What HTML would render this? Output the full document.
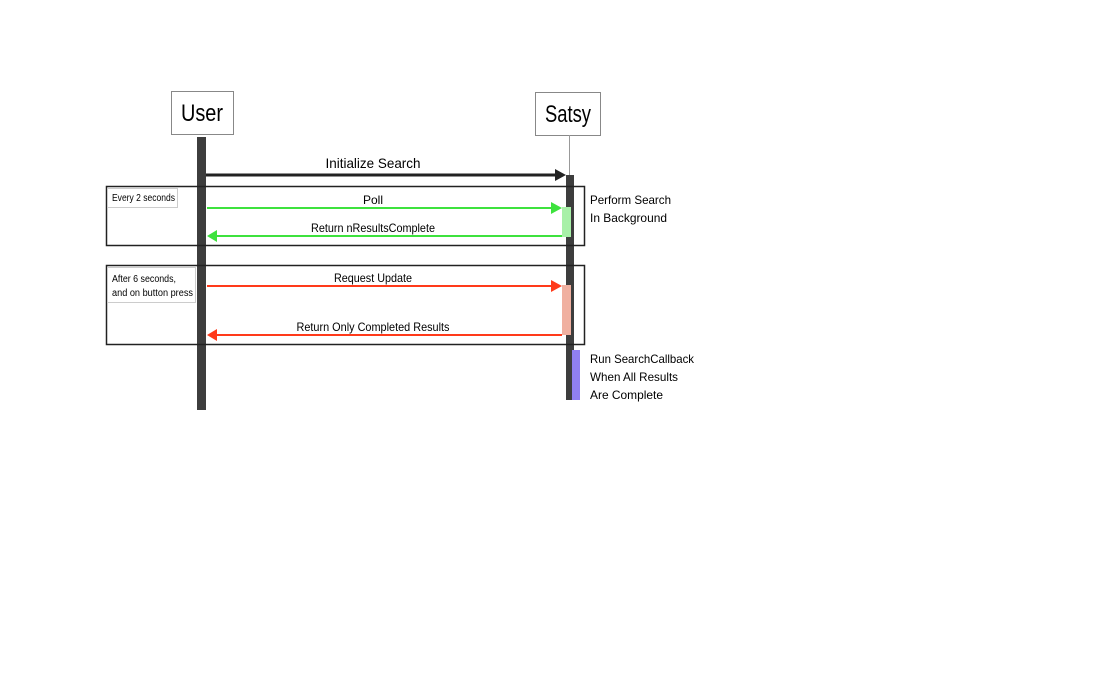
<!DOCTYPE html>
<html><head><style>body{margin:0;background:#fff}svg{display:block}</style></head><body>
<svg width="1100" height="700" xmlns="http://www.w3.org/2000/svg" font-family="Liberation Sans, sans-serif">
<rect x="171.5" y="91.5" width="62" height="43" fill="#fff" stroke="#888"/>
<text x="202" y="121" font-size="24" text-anchor="middle" textLength="42" lengthAdjust="spacingAndGlyphs">User</text>
<rect x="535.5" y="92.5" width="65" height="43" fill="#fff" stroke="#888"/>
<text x="568" y="122" font-size="24" text-anchor="middle" textLength="46" lengthAdjust="spacingAndGlyphs">Satsy</text>
<rect x="197" y="137" width="9" height="273" fill="#3d3d3d"/>
<line x1="569.5" y1="135" x2="569.5" y2="176" stroke="#999"/>
<rect x="566" y="175" width="8" height="225" fill="#3d3d3d"/>
<rect x="106.5" y="186.5" width="478" height="59" fill="none" stroke="#222" stroke-width="1.5"/>
<rect x="107.5" y="188.5" width="70" height="19" fill="#fff" stroke="#ccc"/>
<text x="112" y="201" font-size="10" textLength="63" lengthAdjust="spacingAndGlyphs">Every 2 seconds</text>
<rect x="106.5" y="265.5" width="478" height="79" fill="none" stroke="#222" stroke-width="1.5"/>
<rect x="107.5" y="267.5" width="88" height="35" fill="#fff" stroke="#ccc"/>
<text x="112" y="282" font-size="10" textLength="64" lengthAdjust="spacingAndGlyphs">After 6 seconds,</text>
<text x="112" y="296" font-size="10" textLength="81" lengthAdjust="spacingAndGlyphs">and on button press</text>
<line x1="206" y1="175" x2="556" y2="175" stroke="#222" stroke-width="3"/>
<polygon points="555,169 566,175 555,181" fill="#222"/>
<text x="373" y="168" font-size="14" text-anchor="middle" textLength="95" lengthAdjust="spacingAndGlyphs">Initialize Search</text>
<rect x="562" y="207" width="9" height="30" fill="#a8f0a8"/>
<line x1="207" y1="208" x2="552" y2="208" stroke="#3de23d" stroke-width="2"/>
<polygon points="551,202 562,208 551,214" fill="#3de23d"/>
<text x="373" y="204" font-size="12" text-anchor="middle">Poll</text>
<line x1="216" y1="236" x2="562" y2="236" stroke="#3de23d" stroke-width="2"/>
<polygon points="217,230 207,236 217,242" fill="#3de23d"/>
<text x="373" y="232" font-size="12" text-anchor="middle" textLength="124" lengthAdjust="spacingAndGlyphs">Return nResultsComplete</text>
<rect x="562" y="285" width="9" height="50" fill="#f0b0a0"/>
<line x1="207" y1="286" x2="552" y2="286" stroke="#ff3a1a" stroke-width="2"/>
<polygon points="551,280 562,286 551,292" fill="#ff3a1a"/>
<text x="373" y="282" font-size="12" text-anchor="middle" textLength="78" lengthAdjust="spacingAndGlyphs">Request Update</text>
<line x1="216" y1="335" x2="562" y2="335" stroke="#ff3a1a" stroke-width="2"/>
<polygon points="217,329 207,335 217,341" fill="#ff3a1a"/>
<text x="373" y="331" font-size="12" text-anchor="middle" textLength="153" lengthAdjust="spacingAndGlyphs">Return Only Completed Results</text>
<rect x="572" y="350" width="8" height="50" fill="#9080f0"/>
<g font-size="12">
<text x="590" y="204" textLength="81" lengthAdjust="spacingAndGlyphs">Perform Search</text>
<text x="590" y="222" textLength="77" lengthAdjust="spacingAndGlyphs">In Background</text>
<text x="590" y="363" textLength="104" lengthAdjust="spacingAndGlyphs">Run SearchCallback</text>
<text x="590" y="381" textLength="88" lengthAdjust="spacingAndGlyphs">When All Results</text>
<text x="590" y="399" textLength="73" lengthAdjust="spacingAndGlyphs">Are Complete</text>
</g>
</svg>
</body></html>
